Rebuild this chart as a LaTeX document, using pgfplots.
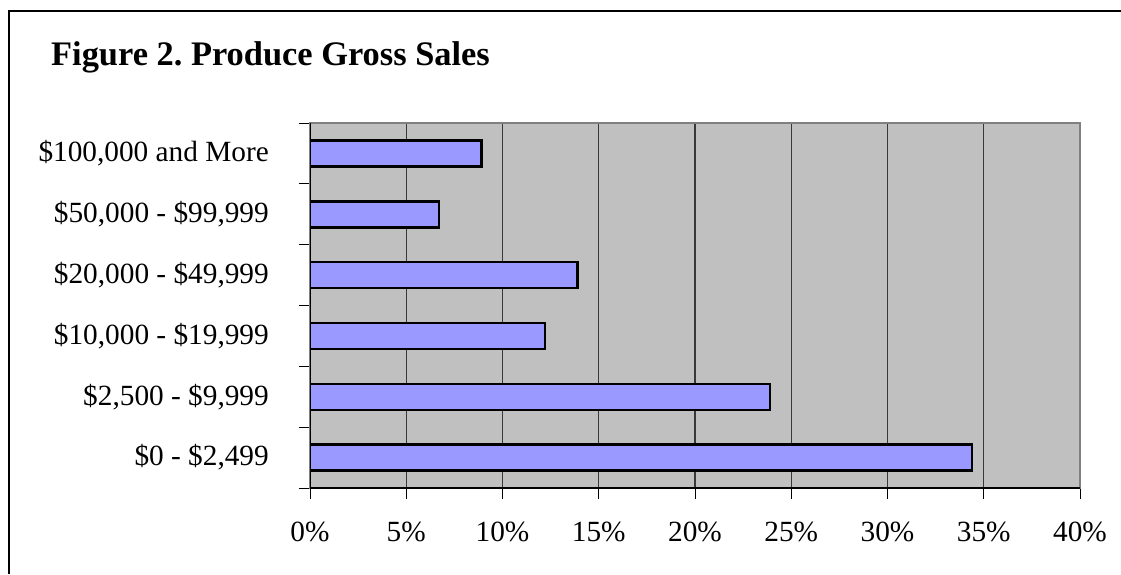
\documentclass[border=0pt]{standalone}
\usepackage{fontspec}
\setmainfont{Liberation Serif}
\usepackage{pgfplots}
\pgfplotsset{compat=1.18}
\definecolor{barfill}{HTML}{9999FF}
\definecolor{plotbg}{HTML}{C0C0C0}
\definecolor{framegray}{HTML}{808080}
\frenchspacing
\begin{document}
\begin{tikzpicture}
\useasboundingbox (0,0) rectangle (1121pt,-574pt);
\fill[white] (0,0) rectangle (1121pt,-574pt);
\draw[line width=2pt] (9pt,-574pt) -- (9pt,-10.5pt) -- (1121pt,-10.5pt);
\node[anchor=base west, inner sep=0pt, font=\fontsize{34.4}{36}\selectfont\bfseries] at (51pt,-65pt) {Figure 2. Produce Gross Sales};
\begin{axis}[
  at={(310pt,-488pt)}, anchor=south west,
  width=770pt, height=365pt, scale only axis,
  xmin=0, xmax=40, ymin=-0.5, ymax=5.5,
  axis line style={line width=2pt, framegray},
  xtick pos=bottom, ytick pos=left,
  tick align=outside,
  major tick length=11pt,
  tick style={black, line width=1pt},
  xtick={0,5,...,40},
  xticklabels={0\%,5\%,10\%,15\%,20\%,25\%,30\%,35\%,40\%},
  xmajorgrids,
  grid style={line width=1.2pt, color=black!78},
  axis background/.style={fill=plotbg},
  ytick={-0.5,0.5,...,5.5},
  yticklabels={},
  extra y ticks={0,1,2,3,4,5},
  extra y tick labels={{\$0 - \$2,499},{\$2,500 - \$9,999},{\$10,000 - \$19,999},{\$20,000 - \$49,999},{\$50,000 - \$99,999},{\$100,000 and More}},
  extra y tick style={grid=none, tick style={draw=none}},
  tick label style={font=\fontsize{29.3}{31}\selectfont},
  yticklabel style={anchor=east, inner sep=0pt, xshift=-30pt},
  xticklabel style={anchor=base, inner sep=0pt, yshift=-42pt},
]
\addplot[xbar, bar width=26pt, fill=barfill, draw=black, line width=2.5pt]
  coordinates {(34.4,0) (23.9,1) (12.2,2) (13.9,3) (6.7,4) (8.9,5)};
\draw[black, line width=1.2pt] (rel axis cs:0,1) -- (rel axis cs:0,0) -- (rel axis cs:1,0);
\end{axis}
\end{tikzpicture}
\end{document}
